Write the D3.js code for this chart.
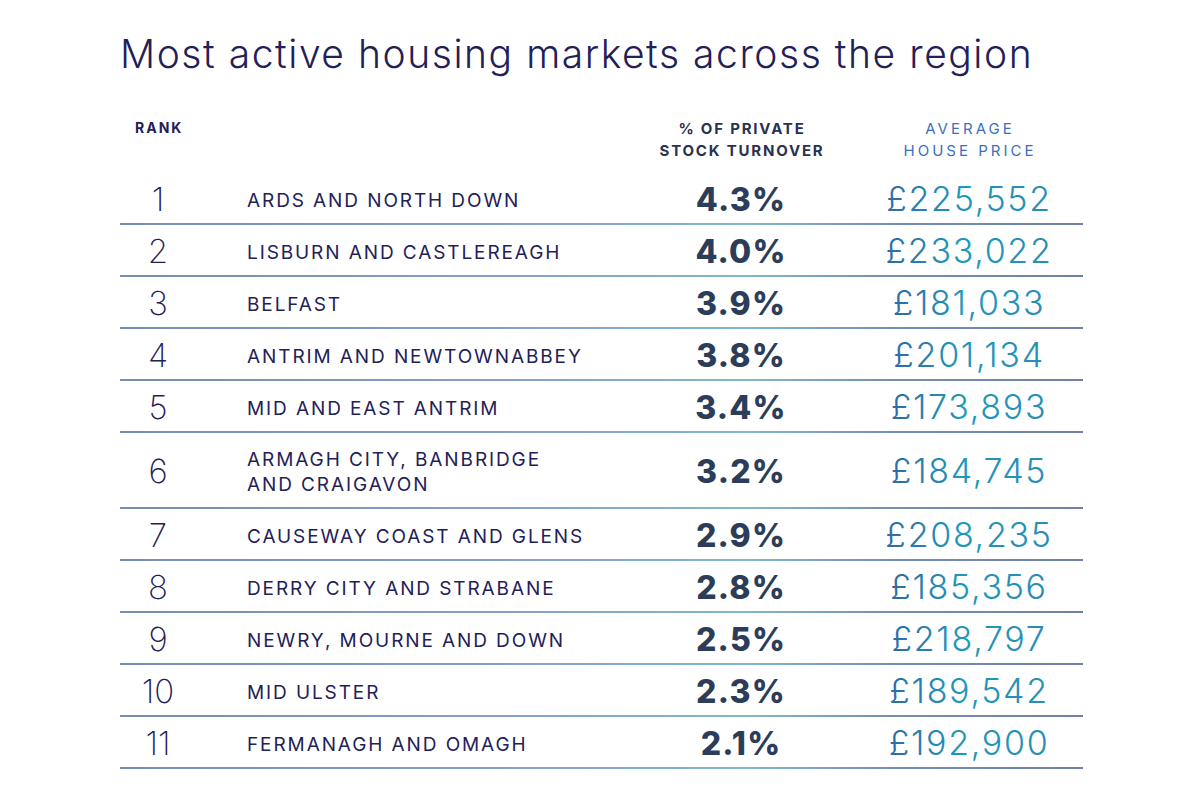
<!DOCTYPE html>
<html>
<head>
<meta charset="utf-8">
<script src="https://cdn.jsdelivr.net/npm/d3@7"></script>
<style>
  body { margin: 0; background: #fff; }
  svg { display: block; }
</style>
</head>
<body>
<div id="chart"></div>
<script>
const title = "Most active housing markets across the region";
const ranks = [1, 2, 3, 4, 5, 6, 7, 8, 9, 10, 11];
const districts = [
  ["ARDS AND NORTH DOWN"],
  ["LISBURN AND CASTLEREAGH"],
  ["BELFAST"],
  ["ANTRIM AND NEWTOWNABBEY"],
  ["MID AND EAST ANTRIM"],
  ["ARMAGH CITY, BANBRIDGE", "AND CRAIGAVON"],
  ["CAUSEWAY COAST AND GLENS"],
  ["DERRY CITY AND STRABANE"],
  ["NEWRY, MOURNE AND DOWN"],
  ["MID ULSTER"],
  ["FERMANAGH AND OMAGH"]
];
const turnover = [4.3, 4.0, 3.9, 3.8, 3.4, 3.2, 2.9, 2.8, 2.5, 2.3, 2.1];
const prices = [225552, 233022, 181033, 201134, 173893, 184745, 208235, 185356, 218797, 189542, 192900];
const headers = {
  rank: ["RANK"],
  turnover: ["% OF PRIVATE", "STOCK TURNOVER"],
  price: ["AVERAGE", "HOUSE PRICE"]
};

const width = 1200, height = 800;
const navy = "#1f2158";
const font = "Inter, 'Noto Sans', sans-serif";

const svg = d3.select("#chart").append("svg")
  .attr("width", width)
  .attr("height", height);

// gradients for the separators and the price figures
const defs = svg.append("defs");
const addGrad = (id, stops, units) => {
  const g = defs.append("linearGradient").attr("id", id)
    .attr("x1", "0%").attr("x2", "100%").attr("y1", "0%").attr("y2", "0%");
  if (units) g.attr("gradientUnits", units);
  stops.forEach(([o, c]) => g.append("stop").attr("offset", o).attr("stop-color", c));
};
addGrad("lineGrad", [["0%", "#4a669a"], ["40%", "#5a80b8"], ["65%", "#5a9ec0"], ["80%", "#46699e"], ["100%", "#3e5688"]]);
addGrad("priceGrad", [["0%", "#2f6aa8"], ["45%", "#1e98b8"], ["100%", "#2a8cb4"]]);

// row sizes: two-line names get a taller row
const unitFor = lines => lines.length > 1 ? 76 / 52 : 1;
const rows = [];
let acc = 0;
districts.forEach((d, i) => {
  const u = unitFor(d);
  rows.push({ rank: ranks[i], name: d, pct: turnover[i], price: prices[i], y0: acc, y1: acc + u });
  acc += u;
});

const y = d3.scaleLinear().domain([0, acc]).range([172, 768]);
const xPos = { lineStart: 120, rank: 158, name: 247, pct: 741, price: 969, lineEnd: 1083 };
const colX = k => xPos[k];

const fmtPrice = d => "£" + d3.format(",")(d);
const fmtPct = d => d3.format(".1f")(d) + "%";

// title
svg.append("text")
  .attr("x", 120)
  .attr("y", 68)
  .attr("font-family", font)
  .attr("font-weight", 300)
  .attr("font-size", 39)
  .attr("letter-spacing", 1.55)
  .attr("fill", navy)
  .text(title);

// headers
const hdr = svg.append("g")
  .attr("font-family", font)
  .attr("font-size", 15);

hdr.append("text")
  .attr("x", 135).attr("y", 133)
  .attr("font-weight", 700)
  .attr("font-size", 14)
  .attr("letter-spacing", 2)
  .attr("fill", navy)
  .text(headers.rank[0]);

hdr.selectAll(".h-pct")
  .data(headers.turnover)
  .join("text")
  .attr("class", "h-pct")
  .attr("x", colX("pct") + 1)
  .attr("y", (d, i) => 134 + i * 22)
  .attr("text-anchor", "middle")
  .attr("font-weight", 700)
  .attr("letter-spacing", 1.8)
  .attr("fill", "#2a3152")
  .text(d => d);

hdr.selectAll(".h-price")
  .data(headers.price)
  .join("text")
  .attr("class", "h-price")
  .attr("x", colX("price") + 1)
  .attr("y", (d, i) => 134 + i * 22)
  .attr("text-anchor", "middle")
  .attr("font-weight", 400)
  .attr("letter-spacing", 3)
  .attr("fill", "#3c6fbf")
  .text(d => d);

// row separators
svg.append("g")
  .selectAll("line")
  .data(rows)
  .join("line")
  .attr("x1", colX("lineStart"))
  .attr("x2", colX("lineEnd"))
  .attr("y1", d => y(d.y1))
  .attr("y2", d => y(d.y1) + 0.01)
  .attr("stroke", "url(#lineGrad)")
  .attr("stroke-width", 1.6);

const row = svg.append("g")
  .selectAll("g")
  .data(rows)
  .join("g")
  .attr("transform", d => `translate(0, ${(y(d.y0) + y(d.y1)) / 2})`)
  .attr("font-family", font);

row.append("text")
  .attr("x", colX("rank"))
  .attr("y", 0)
  .attr("dy", "0.38em")
  .attr("text-anchor", "middle")
  .attr("font-size", 33)
  .attr("font-weight", 200)
  .attr("fill", navy)
  .text(d => d.rank);

row.append("text")
  .attr("font-size", 19)
  .attr("letter-spacing", 1.9)
  .attr("fill", navy)
  .selectAll("tspan")
  .data(d => d.name.map((t, i) => ({ t, i, n: d.name.length })))
  .join("tspan")
  .attr("x", colX("name"))
  .attr("y", d => (d.i - (d.n - 1) / 2) * 25)
  .attr("dy", "0.45em")
  .text(d => d.t);

row.append("text")
  .attr("x", colX("pct"))
  .attr("y", 0)
  .attr("dy", "0.42em")
  .attr("text-anchor", "middle")
  .attr("font-size", 32)
  .attr("font-weight", 800)
  .attr("letter-spacing", 1.2)
  .attr("fill", "#2c3d5a")
  .text(d => fmtPct(d.pct));

row.append("text")
  .attr("x", colX("price"))
  .attr("y", 0)
  .attr("dy", "0.38em")
  .attr("text-anchor", "middle")
  .attr("font-size", 34)
  .attr("font-weight", 300)
  .attr("letter-spacing", 1.7)
  .attr("fill", "url(#priceGrad)")
  .text(d => fmtPrice(d.price));
</script>
</body>
</html>
